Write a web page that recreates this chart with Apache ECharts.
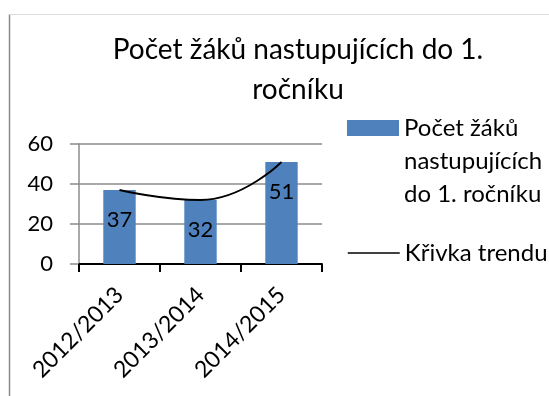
<!DOCTYPE html>
<html>
<head>
<meta charset="utf-8">
<script src="https://cdn.jsdelivr.net/npm/echarts@6/dist/echarts.min.js"></script>
<style>
  html, body { margin: 0; padding: 0; background: #ffffff; }
  #chart { width: 549px; height: 396px; }
</style>
</head>
<body>
<div id="chart"></div>
<script>
// School years on the category axis
const schoolYears = ['2012/2013', '2013/2014', '2014/2015'];
// Pupils starting first grade in each school year
const enrolled = [37, 32, 51];
// Trend curve anchor values (second-order trend through the yearly counts)
const trendValues = [37, 32, 51];
// Value axis ticks
const yTicks = [0, 20, 40, 60];

const barName = 'Počet žáků nastupujících do 1. ročníku';
const trendName = 'Křivka trendu';
const FONT = 'Lato';

const chart = echarts.init(document.getElementById('chart'), null, { renderer: 'canvas' });

chart.setOption({
  backgroundColor: '#ffffff',
  animation: false,
  title: {
    text: 'Počet žáků nastupujících do 1.\nročníku',
    left: 298,
    top: 30,
    padding: 0,
    textAlign: 'center',
    textStyle: {
      fontFamily: FONT,
      fontSize: 28,
      fontWeight: 'normal',
      color: '#000000',
      lineHeight: 40
    }
  },
  legend: [
    {
      data: [barName],
      orient: 'vertical',
      left: 347,
      top: 45.5,
      padding: 0,
      itemWidth: 52,
      itemHeight: 16,
      icon: 'rect',
      selectedMode: false,
      formatter: () => '\n\nPočet žáků\nnastupujících\ndo 1. ročníku',
      textStyle: { fontFamily: FONT, fontSize: 24, color: '#000000', lineHeight: 33 }
    },
    {
      data: [trendName],
      orient: 'vertical',
      left: 347,
      top: 236.5,
      padding: 0,
      itemWidth: 52,
      itemHeight: 16,
      selectedMode: false,
      itemStyle: { opacity: 0 },
      lineStyle: { color: '#000000', width: 1.5 },
      textStyle: { fontFamily: FONT, fontSize: 24, color: '#000000', lineHeight: 33 }
    }
  ],
  grid: {
    left: 79,
    right: 227,
    top: 144,
    bottom: 132,
    containLabel: false
  },
  xAxis: {
    type: 'category',
    data: schoolYears,
    boundaryGap: true,
    axisLine: { show: true, lineStyle: { color: '#000000', width: 2 } },
    axisTick: { show: true, length: 8, lineStyle: { color: '#000000', width: 2 } },
    axisLabel: {
      rotate: 45,
      margin: 27,
      fontFamily: FONT,
      fontSize: 23,
      color: '#000000'
    },
    splitLine: { show: false }
  },
  yAxis: {
    type: 'value',
    min: yTicks[0],
    max: yTicks[yTicks.length - 1],
    interval: yTicks[1] - yTicks[0],
    axisLine: { show: true, lineStyle: { color: '#8c8c8c', width: 1.5 } },
    axisTick: { show: true, length: 9, lineStyle: { color: '#8c8c8c', width: 1.5 } },
    axisLabel: {
      margin: 26,
      fontFamily: FONT,
      fontSize: 22,
      color: '#000000'
    },
    splitLine: { show: true, lineStyle: { color: '#8c8c8c', width: 1.5 } }
  },
  series: [
    {
      name: barName,
      type: 'bar',
      data: enrolled,
      barWidth: '40%',
      itemStyle: { color: '#4f81bd' },
      label: {
        show: true,
        position: 'insideTop',
        distance: 18,
        fontFamily: FONT,
        fontSize: 22,
        lineHeight: 24,
        color: '#000000'
      },
      z: 2
    },
    {
      name: trendName,
      type: 'line',
      data: trendValues,
      smooth: true,
      symbol: 'none',
      showSymbol: false,
      lineStyle: { color: '#000000', width: 1.8 },
      itemStyle: { color: '#000000' },
      z: 3
    }
  ],
  graphic: [
    {
      type: 'line',
      shape: { x1: 9.5, y1: 14, x2: 9.5, y2: 396 },
      style: { stroke: '#8a8a8a', lineWidth: 1.5 },
      silent: true
    },
    {
      type: 'line',
      shape: { x1: 9, y1: 14.5, x2: 549, y2: 14.5 },
      style: { stroke: '#dcdcdc', lineWidth: 1 },
      silent: true
    }
  ]
});
</script>
</body>
</html>
